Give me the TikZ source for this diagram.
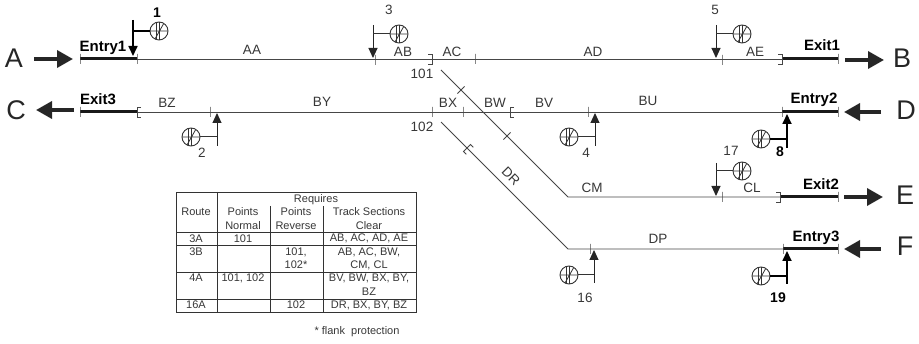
\documentclass[tikz,border=0pt]{standalone}
\usepackage{fontspec}
\setmainfont{Liberation Sans}
\usepackage{xcolor}
\usetikzlibrary{arrows.meta,positioning,calc}
\definecolor{trackgrey}{RGB}{70,70,70}
\definecolor{labelgrey}{RGB}{55,55,55}

\tikzset{
    startbr/.pic={\draw[trackgrey, line width=0.9pt] (4,-5) -- (0,-5) -- (0,5) -- (4,5);},
    endbr/.pic={\draw[trackgrey, line width=0.9pt] (-4,-5) -- (0,-5) -- (0,5) -- (-4,5);}
}

\begin{document}
\begin{tikzpicture}[
    x=1pt, y=-1pt,
    track/.style={draw=trackgrey, line width=0.9pt},
    heavy/.style={draw=black!90, line width=3pt},
    joint/.style={rectangle, draw=trackgrey, line width=0.9pt, minimum width=0pt,
        minimum height=10pt, inner sep=0pt},
    seclabel/.style={font=\fontsize{13.5}{13.5}\selectfont, text=labelgrey, inner sep=0pt},
    portlabel/.style={font=\bfseries\fontsize{15}{15}\selectfont, inner sep=0pt},
    siglabel/.style={font=\fontsize{13.5}{13.5}\selectfont, text=labelgrey, inner sep=0pt},
    boldlabel/.style={font=\bfseries\fontsize{14}{14}\selectfont, inner sep=0pt},
    bigletter/.style={font=\fontsize{27}{27}\selectfont, text=black!85, inner sep=0pt},
    flow/.style={-{Triangle[length=16pt, width=17pt]}, line width=3.5pt, black!85},
    stem/.style={-{Triangle[length=10pt, width=9pt]}, line width=1pt, black!85},
    thickstem/.style={-{Triangle[length=10pt, width=9pt]}, line width=1.7pt, black},
    arm/.style={line width=1pt, black!80},
    thickarm/.style={line width=1.7pt, black},
    lamp/.style={circle, draw=black!80, line width=0.9pt, minimum size=18pt, inner sep=0pt,
        path picture={
            \draw[black!80, line width=0.8pt]
                (path picture bounding box.west) -- (path picture bounding box.east)
                ([xshift=-2.5pt]path picture bounding box.north) -- ([xshift=-2.5pt]path picture bounding box.south)
                ([xshift=0.5pt]path picture bounding box.north) -- ([xshift=0.5pt]path picture bounding box.south)
                ([xshift=-4pt,yshift=-8pt]path picture bounding box.center) -- ([xshift=5pt,yshift=8pt]path picture bounding box.center);
        }},
    tablabel/.style={font=\fontsize{11}{11}\selectfont, text=labelgrey, inner sep=0pt},
    rule/.style={line width=0.9pt, black!80}
]
    \useasboundingbox (0,0) rectangle (919,344);

    % Track ends
    \coordinate (entryA) at (80,59);
    \coordinate (entryAend) at (137,59);
    \coordinate (exitB) at (782,59);
    \coordinate (exitBend) at (838,59);
    \coordinate (exitC) at (80,112);
    \coordinate (exitCend) at (137,112);
    \coordinate (entryD) at (782,112);
    \coordinate (entryDend) at (838,112);
    \coordinate (exitE) at (781,197);
    \coordinate (exitEend) at (838,197);
    \coordinate (entryF) at (783,249);
    \coordinate (entryFend) at (838,249);

    % Diverging routes
    \coordinate (pt101) at (441,70);
    \coordinate (bendCM) at (568,197);
    \coordinate (pt102) at (441,122);
    \coordinate (bendDP) at (568,249);

    \draw[track] (entryAend) -- (exitB);
    \draw[track] (exitCend) -- (entryD);
    \draw[track] (pt101) -- (bendCM) -- (exitE);
    \draw[track] (pt102) -- (bendDP) -- (entryF);

    \draw[heavy] (entryA) -- (entryAend);
    \draw[heavy] (exitB) -- (exitBend);
    \draw[heavy] (exitC) -- (exitCend);
    \draw[heavy] (entryD) -- (entryDend);
    \draw[heavy] (exitE) -- (exitEend);
    \draw[heavy] (entryF) -- (entryFend);

    % Joints
    \node[joint] (jA1) at (entryA) {};
    \node[joint] (jA2) at (entryAend) {};
    \node[joint] (jAB) at (375,60) {};
    \node[joint] (jAC) at (475,59) {};
    \node[joint] (jAE) at (722,60) {};
    \node[joint] (jB2) at (exitBend) {};
    \node[joint] (jC1) at (exitC) {};
    \node[joint] (jBZ) at (210,112) {};
    \node[joint] (jBX) at (432,112) {};
    \node[joint] (jBW) at (463,112) {};
    \node[joint] (jBV) at (588,112) {};
    \node[joint] (jD1) at (entryD) {};
    \node[joint] (jD2) at (entryDend) {};
    \node[joint] (jCL) at (722,197) {};
    \node[joint] (jE2) at (exitEend) {};
    \node[joint] (jDP) at (590,249) {};
    \node[joint] (jF1) at (entryF) {};
    \node[joint] (jF2) at (entryFend) {};
    \node[joint, rotate=-45] (jCMa) at (461,90) {};
    \node[joint, rotate=-45] (jCMb) at (507,136) {};

    \pic at (137,112) {startbr};
    \pic at (510,112) {startbr};
    \pic[rotate=-45] at (467,148) {startbr};
    \pic at (432,59) {endbr};
    \pic at (782,59) {endbr};
    \pic at (780,197) {endbr};

    % Section names
    \node[seclabel] (secAA) at (252,50) {AA};
    \node[seclabel] (secAB) at (403,52) {AB};
    \node[seclabel] (secAC) at (452,52) {AC};
    \node[seclabel] (secAD) at (593,52) {AD};
    \node[seclabel] (secAE) at (755,52) {AE};
    \node[seclabel] (secBZ) at (167,103) {BZ};
    \node[seclabel] (secBY) at (322,102) {BY};
    \node[seclabel] (secBX) at (448,103) {BX};
    \node[seclabel] (secBW) at (495,103) {BW};
    \node[seclabel] (secBV) at (544,103) {BV};
    \node[seclabel] (secBU) at (648,101) {BU};
    \node[seclabel] (secCM) at (592,188) {CM};
    \node[seclabel] (secCL) at (752,188) {CL};
    \node[seclabel, rotate=-45] (secDR) at (511,176) {DR};
    \node[seclabel] (secDP) at (658,239) {DP};
    \node[seclabel] (name101) at (422,74) {101};
    \node[seclabel] (name102) at (422,127) {102};

    % Entries and exits
    \node[portlabel] (txtEntry1) at (103,48) {Entry1};
    \node[portlabel] (txtExit3) at (98,99) {Exit3};
    \node[portlabel] (txtExit1) at (822,45) {Exit1};
    \node[portlabel] (txtEntry2) at (814,100) {Entry2};
    \node[portlabel] (txtExit2) at (821,184) {Exit2};
    \node[portlabel] (txtEntry3) at (816,238) {Entry3};

    \node[bigletter] (portA) at (14,58) {A};
    \node[bigletter] (portB) at (902,58) {B};
    \node[bigletter] (portC) at (16,110) {C};
    \node[bigletter] (portD) at (906,110) {D};
    \node[bigletter] (portE) at (905,195) {E};
    \node[bigletter] (portF) at (905,246) {F};

    \coordinate (flowA) at (73,59);
    \coordinate (flowB) at (884,60);
    \coordinate (flowC) at (36,110);
    \coordinate (flowD) at (844,112);
    \coordinate (flowE) at (883,197);
    \coordinate (flowF) at (844,249);

    \draw[flow] (34,59) -- (flowA);
    \draw[flow] (845,60) -- (flowB);
    \draw[flow] (74,110) -- (flowC);
    \draw[flow] (881,112) -- (flowD);
    \draw[flow] (844,197) -- (flowE);
    \draw[flow] (881,249) -- (flowF);

    % Signals above the line
    \node[lamp] (lamp1) at (159,31) {};
    \coordinate (top1) at (133,20);
    \coordinate (tip1) at (133,56);
    \draw[thickstem] (top1) -- (tip1);
    \draw[thickarm] (lamp1) -- (lamp1 -| top1);
    \node[boldlabel, above=4pt of lamp1, xshift=-2pt] (num1) {1};

    \node[lamp] (lamp3) at (399,34) {};
    \coordinate (top3) at (373,25);
    \coordinate (tip3) at (373,58);
    \draw[stem] (top3) -- (tip3);
    \draw[arm] (lamp3) -- (lamp3 -| top3);
    \node[siglabel] (num3) at (389,10) {3};

    \node[lamp] (lamp5) at (742,34) {};
    \coordinate (top5) at (716,25);
    \coordinate (tip5) at (716,58);
    \draw[stem] (top5) -- (tip5);
    \draw[arm] (lamp5) -- (lamp5 -| top5);
    \node[siglabel] (num5) at (715,10) {5};

    \node[lamp] (lamp17) at (742,171) {};
    \coordinate (top17) at (716,163);
    \coordinate (tip17) at (716,196);
    \draw[stem] (top17) -- (tip17);
    \draw[arm] (lamp17) -- (lamp17 -| top17);
    \node[siglabel] (num17) at (731,151) {17};

    % Signals below the line
    \node[lamp] (lamp2) at (191,137) {};
    \coordinate (foot2) at (217,146);
    \coordinate (tip2) at (217,113);
    \draw[stem] (foot2) -- (tip2);
    \draw[arm] (lamp2) -- (lamp2 -| foot2);
    \node[siglabel] (num2) at (202,153) {2};

    \node[lamp] (lamp4) at (569,137) {};
    \coordinate (foot4) at (595,146);
    \coordinate (tip4) at (595,113);
    \draw[stem] (foot4) -- (tip4);
    \draw[arm] (lamp4) -- (lamp4 -| foot4);
    \node[siglabel] (num4) at (586,153) {4};

    \node[lamp] (lamp8) at (761,139) {};
    \coordinate (foot8) at (787,148);
    \coordinate (tip8) at (787,114);
    \draw[thickstem] (foot8) -- (tip8);
    \draw[thickarm] (lamp8) -- (lamp8 -| foot8);
    \node[boldlabel] (num8) at (780,152) {8};

    \node[lamp] (lamp16) at (569,275) {};
    \coordinate (foot16) at (594,283);
    \coordinate (tip16) at (594,250);
    \draw[stem] (foot16) -- (tip16);
    \draw[arm] (lamp16) -- (lamp16 -| foot16);
    \node[siglabel] (num16) at (585,298) {16};

    \node[lamp] (lamp19) at (761,276) {};
    \coordinate (foot19) at (787,284);
    \coordinate (tip19) at (787,251);
    \draw[thickstem] (foot19) -- (tip19);
    \draw[thickarm] (lamp19) -- (lamp19 -| foot19);
    \node[boldlabel] (num19) at (778,298) {19};

    % Route table
    \draw[rule] (176,192) rectangle (416,312);
    \draw[rule] (176,232) -- (416,232);
    \draw[rule] (176,245) -- (416,245);
    \draw[rule] (176,272) -- (416,272);
    \draw[rule] (176,299) -- (416,299);
    \draw[rule] (217,192) -- (217,312);
    \draw[rule] (270,206) -- (270,312);
    \draw[rule] (323,206) -- (323,312);

    \node[tablabel] (tReq) at (316,199.5) {Requires};
    \node[tablabel] (tRoute) at (196,212) {Route};
    \node[tablabel] (tNorm1) at (243,212) {Points};
    \node[tablabel] (tNorm2) at (243,225.5) {Normal};
    \node[tablabel] (tRev1) at (296,212) {Points};
    \node[tablabel] (tRev2) at (296,225.5) {Reverse};
    \node[tablabel] (tSec1) at (369,212) {Track Sections};
    \node[tablabel] (tSec2) at (369,225.5) {Clear};
    \node[tablabel] (r3A) at (196,238.5) {3A};
    \node[tablabel] (r3Anorm) at (243,238.5) {101};
    \node[tablabel] (r3Asec) at (369,238) {AB, AC, AD, AE};
    \node[tablabel] (r3B) at (196,252) {3B};
    \node[tablabel] (r3Brev1) at (296,252) {101,};
    \node[tablabel] (r3Brev2) at (296,265) {102*};
    \node[tablabel] (r3Bsec1) at (369,252) {AB, AC, BW,};
    \node[tablabel] (r3Bsec2) at (369,265) {CM, CL};
    \node[tablabel] (r4A) at (196,278) {4A};
    \node[tablabel] (r4Anorm) at (243,278) {101, 102};
    \node[tablabel] (r4Asec1) at (369,278) {BV, BW, BX, BY,};
    \node[tablabel] (r4Asec2) at (369,292) {BZ};
    \node[tablabel] (r16A) at (196,305) {16A};
    \node[tablabel] (r16Arev) at (296,305) {102};
    \node[tablabel] (r16Asec) at (369,305) {DR, BX, BY, BZ};
    \node[tablabel] (note) at (357,332) {* flank\ \ protection};
\end{tikzpicture}
\end{document}
